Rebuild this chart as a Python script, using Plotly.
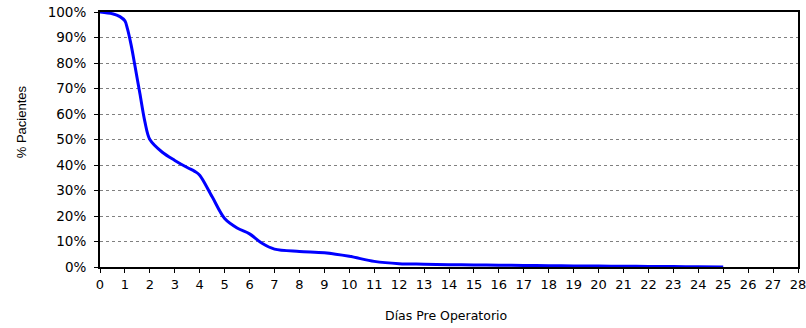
import plotly.graph_objects as go

days = [0, 0.5, 0.8, 1, 1.1, 1.25, 1.4, 1.6, 1.8, 2, 2.5, 3, 3.5, 3.8, 4, 4.5, 5, 5.5, 6, 6.5, 7, 8, 9, 10,
        11, 12, 13, 14, 15, 16, 17, 18, 19, 20, 21, 22, 23, 24, 25]
pct = [100, 99.3, 98.2, 96.5, 93.5, 87, 79, 68, 57, 50, 45, 41.8, 39, 37.5, 36, 27.5, 19, 15.3, 13, 9.3, 7, 6.1, 5.6, 4.2,
       2.2, 1.3, 1.1, 0.9, 0.8, 0.7, 0.6, 0.5, 0.4, 0.35, 0.3, 0.2, 0.15, 0.1, 0]
x_ticks = list(range(0, 29))
y_ticks = [0, 10, 20, 30, 40, 50, 60, 70, 80, 90, 100]
y_labels = [f"{v}%" for v in y_ticks]

fig = go.Figure()
fig.add_trace(go.Scatter(
    x=days, y=pct, mode="lines",
    line=dict(color="#0000ff", width=3, shape="spline", smoothing=0.9),
    showlegend=False, hoverinfo="skip"))

fig.update_layout(
    width=806, height=328,
    margin=dict(l=100, r=8, t=12, b=61),
    paper_bgcolor="white", plot_bgcolor="white",
    font=dict(family="DejaVu Sans, Verdana, sans-serif", color="black", size=13),
)
fig.update_xaxes(
    range=[0, 28], tickvals=x_ticks, ticktext=[str(v) for v in x_ticks],
    showgrid=False, zeroline=False, automargin=False, ticklabeloverflow="allow",
    showline=True, linecolor="black", linewidth=2, mirror=True,
    ticks="outside", ticklen=4, tickwidth=1, tickcolor="black",
    tickfont=dict(size=13),
)
fig.update_yaxes(
    range=[0, 100], tickvals=y_ticks, ticktext=y_labels,
    showgrid=True, gridcolor="#808080", griddash="dot", gridwidth=1,
    zeroline=False, automargin=False, ticklabeloverflow="allow",
    showline=True, linecolor="black", linewidth=2, mirror=True,
    ticks="outside", ticklen=4, tickwidth=1, tickcolor="black",
    ticklabelstandoff=5,
    tickfont=dict(size=13.5),
)
fig.add_annotation(
    text="D\u00edas Pre Operatorio", xref="paper", yref="paper",
    x=0.496, y=-0.192, showarrow=False, xanchor="center", yanchor="middle",
    font=dict(size=12.5, family="DejaVu Sans, Verdana, sans-serif"))
fig.add_annotation(
    text="% Pacientes", xref="paper", yref="paper",
    x=-0.1119, y=0.571, showarrow=False, xanchor="center", yanchor="middle",
    textangle=-90,
    font=dict(size=13, family="Liberation Sans Narrow, Arial Narrow, sans-serif"))
fig.write_html("out.html", config={"displayModeBar": False},
               post_script="document.body.style.margin='0';document.body.style.overflow='hidden';")
